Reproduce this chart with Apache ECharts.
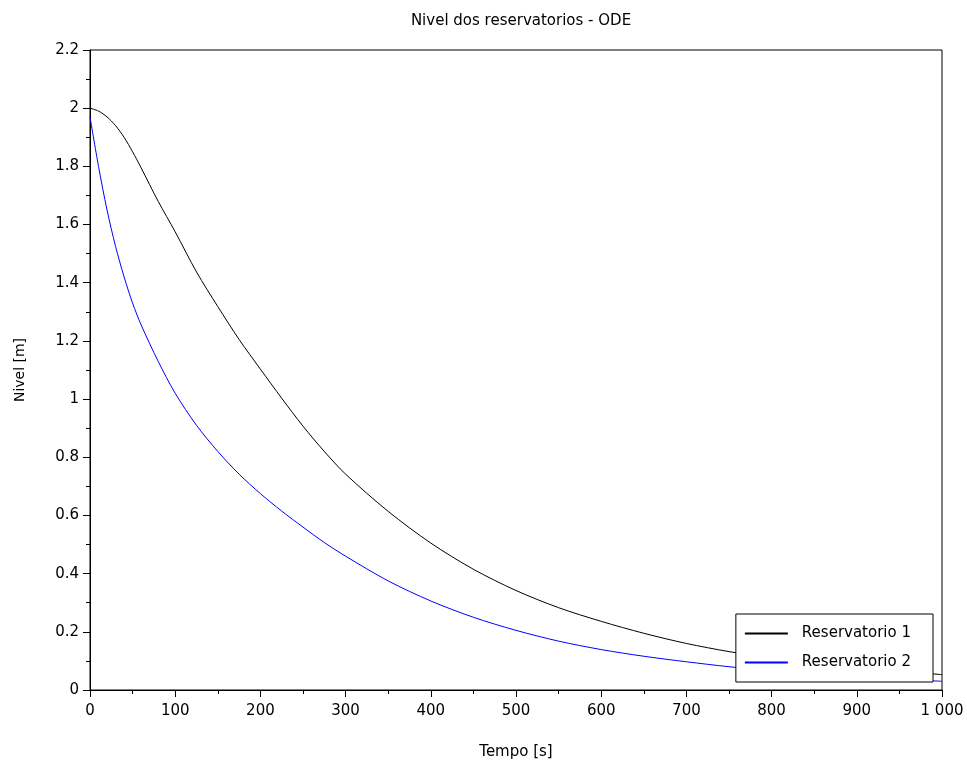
<!DOCTYPE html>
<html>
<head>
<meta charset="utf-8">
<script src="https://cdn.jsdelivr.net/npm/echarts@6/dist/echarts.min.js"></script>
<style>
  html, body { margin: 0; padding: 0; background: #fff; }
  #chart { width: 967px; height: 769px; }
</style>
</head>
<body>
<div id="chart"></div>
<script>
// tempo [s]
const tempo = [0, 10, 20, 30, 40, 50, 60, 80, 100, 125, 150, 175, 200, 225, 250, 275, 300,
  350, 400, 450, 500, 550, 600, 650, 700, 750, 800, 850, 900, 950, 1000];
// nivel reservatorio 1 [m]
const nivel1 = [2.0, 1.99, 1.97, 1.94, 1.90, 1.85, 1.795, 1.68, 1.575, 1.437, 1.318, 1.205,
  1.103, 1.003, 0.907, 0.82, 0.742, 0.614, 0.505, 0.415, 0.342, 0.283, 0.236, 0.195, 0.16,
  0.132, 0.11, 0.092, 0.077, 0.064, 0.053];
// nivel reservatorio 2 [m]
const nivel2 = [1.97, 1.80, 1.65, 1.525, 1.42, 1.33, 1.255, 1.13, 1.02, 0.91, 0.82, 0.742,
  0.675, 0.615, 0.56, 0.507, 0.46, 0.375, 0.306, 0.25, 0.205, 0.168, 0.139, 0.116, 0.097,
  0.08, 0.066, 0.054, 0.045, 0.037, 0.03];
const nomes = ["Reservatorio 1", "Reservatorio 2"];

const font = "DejaVu Sans";
const chart = echarts.init(document.getElementById('chart'));

const option = {
  animation: false,
  backgroundColor: "#fff",
  title: {
    text: "Nivel dos reservatorios - ODE",
    left: 516,
    textAlign: "center",
    top: 9,
    textStyle: { fontFamily: font, fontSize: 15, fontWeight: "normal", color: "#000" }
  },
  grid: {
    left: 90, right: 25, top: 50, bottom: 79,
    show: true, borderColor: "#000", borderWidth: 1
  },
  legend: {
    data: nomes,
    orient: "vertical",
    right: 34,
    bottom: 87,
    backgroundColor: "#fff",
    borderColor: "#000",
    borderWidth: 1,
    borderRadius: 0,
    padding: [12, 22, 12, 8],
    itemWidth: 43,
    itemHeight: 14,
    itemGap: 14,
    itemStyle: { opacity: 0 },
    textStyle: { fontFamily: font, fontSize: 15, color: "#000", padding: [0, 0, 0, 9] }
  },
  xAxis: {
    type: "value",
    min: 0, max: 1000, interval: 100,
    name: "Tempo [s]",
    nameLocation: "middle",
    nameGap: 55,
    nameTextStyle: { fontFamily: font, fontSize: 15, color: "#000" },
    axisLine: { lineStyle: { color: "#000", width: 1 } },
    axisTick: { show: true, length: 7, lineStyle: { color: "#000" } },
    minorTick: { show: true, splitNumber: 2, length: 4, lineStyle: { color: "#000" } },
    splitLine: { show: false },
    axisLabel: {
      fontFamily: font, fontSize: 15, color: "#000", margin: 14,
      formatter: v => v === 1000 ? "1 000" : String(v)
    }
  },
  yAxis: {
    type: "value",
    min: 0, max: 2.2, interval: 0.2,
    name: "Nivel [m]",
    nameLocation: "middle",
    nameGap: 63,
    nameTextStyle: { fontFamily: font, fontSize: 14, color: "#000" },
    axisLine: { show: true, lineStyle: { color: "#000", width: 1 } },
    axisTick: { show: true, length: 7, lineStyle: { color: "#000" } },
    minorTick: { show: true, splitNumber: 2, length: 4, lineStyle: { color: "#000" } },
    splitLine: { show: false },
    axisLabel: { fontFamily: font, fontSize: 15, color: "#000", margin: 11 }
  },
  series: [
    {
      name: nomes[0],
      type: "line",
      symbol: "none",
      smooth: 0.3,
      data: tempo.map((t, i) => [t, nivel1[i]]),
      lineStyle: { color: "#000", width: 1 },
      itemStyle: { color: "#000" }
    },
    {
      name: nomes[1],
      type: "line",
      symbol: "none",
      smooth: 0.3,
      data: tempo.map((t, i) => [t, nivel2[i]]),
      lineStyle: { color: "#0000ff", width: 1 },
      itemStyle: { color: "#0000ff" }
    }
  ]
};

chart.setOption(option);
</script>
</body>
</html>
